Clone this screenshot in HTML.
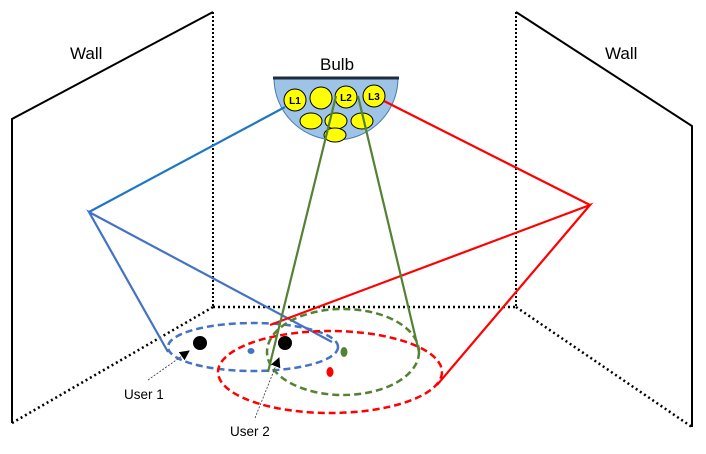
<!DOCTYPE html>
<html><head><meta charset="utf-8"><style>html,body{margin:0;padding:0;background:#fff}svg{display:block}</style></head>
<body>
<svg width="706" height="454" viewBox="0 0 706 454" xmlns="http://www.w3.org/2000/svg" font-family="Liberation Sans, sans-serif">
<defs><marker id="ah" markerWidth="10" markerHeight="10" refX="9" refY="5" orient="auto" markerUnits="userSpaceOnUse"><path d="M0,0 L10,5 L0,10 z" fill="#000"/></marker></defs>
<!-- walls -->
<polyline points="12,423 12,119 213,12" fill="none" stroke="#000" stroke-width="2"/>
<line x1="213" y1="12" x2="213" y2="307" stroke="#000" stroke-width="2" stroke-dasharray="2,2"/>
<line x1="12" y1="423" x2="213" y2="307" stroke="#000" stroke-width="2.5" stroke-dasharray="2,3"/>
<line x1="213" y1="307" x2="516" y2="307" stroke="#000" stroke-width="2.5" stroke-dasharray="2,3"/>
<polyline points="516,12 692,126 692,427" fill="none" stroke="#000" stroke-width="2"/>
<line x1="516" y1="12" x2="516" y2="307" stroke="#000" stroke-width="2" stroke-dasharray="2,2"/>
<line x1="516" y1="307" x2="692" y2="427" stroke="#000" stroke-width="2.5" stroke-dasharray="2,3"/>
<text x="70" y="59" font-size="17">Wall</text>
<text x="605" y="59" font-size="17">Wall</text>
<text x="320" y="70" font-size="17">Bulb</text>
<!-- bulb -->
<path d="M274,78 A62,62 0 0 0 398,78 Z" fill="#9dc3e6" stroke="#4a7ab0" stroke-width="1"/>
<line x1="273" y1="78" x2="399" y2="78" stroke="#1f2d3d" stroke-width="3"/>
<g fill="#ffff00" stroke="#000" stroke-width="1">
<circle cx="295" cy="100" r="11"/><circle cx="321" cy="98" r="11"/><circle cx="346" cy="97" r="11"/><circle cx="374" cy="96" r="11"/>
<ellipse cx="311" cy="121" rx="11" ry="8"/><ellipse cx="336" cy="121" rx="11" ry="8"/><ellipse cx="362" cy="121" rx="11" ry="8"/><ellipse cx="335" cy="135" rx="11" ry="7"/>
</g>
<g font-size="10" font-weight="bold" text-anchor="middle"><text x="295" y="104">L1</text><text x="346" y="101">L2</text><text x="374" y="100">L3</text></g>
<!-- blue -->
<polyline points="285,107 89,212" fill="none" stroke="#1f77c4" stroke-width="2.2"/>
<polyline points="168,352 89,212 332,342" fill="none" stroke="#4472c4" stroke-width="2.2"/>
<ellipse cx="253" cy="347" rx="85" ry="24" fill="none" stroke="#4472c4" stroke-width="2.5" stroke-dasharray="7,4"/>
<!-- red -->
<polyline points="384,101 590,205" fill="none" stroke="#ff0000" stroke-width="2.2"/>
<polyline points="270,325 590,205 437,385" fill="none" stroke="#ff0000" stroke-width="2.2"/>
<ellipse cx="330" cy="372" rx="112" ry="41" fill="none" stroke="#ff0000" stroke-width="2.5" stroke-dasharray="7,4"/>
<!-- green -->
<line x1="336" y1="96" x2="268" y2="372" stroke="#548235" stroke-width="2.2"/>
<line x1="358" y1="96" x2="419" y2="352" stroke="#548235" stroke-width="2.2"/>
<ellipse cx="343" cy="352" rx="76" ry="43" fill="none" stroke="#548235" stroke-width="2.5" stroke-dasharray="7,4"/>
<!-- dots -->
<circle cx="200" cy="343" r="7" fill="#000"/><circle cx="285" cy="343" r="7" fill="#000"/>
<ellipse cx="251" cy="351" rx="3.5" ry="3" fill="#4472c4"/>
<ellipse cx="344" cy="352" rx="3.5" ry="5" fill="#548235"/>
<ellipse cx="330" cy="372" rx="3.5" ry="5" fill="#ff0000"/>
<!-- arrows -->
<line x1="148" y1="380" x2="189" y2="351" stroke="#333" stroke-width="0.8" stroke-dasharray="2,1.5" marker-end="url(#ah)"/>
<line x1="255" y1="418" x2="279" y2="358" stroke="#333" stroke-width="0.8" stroke-dasharray="2,1.5" marker-end="url(#ah)"/>
<text x="124" y="399" font-size="13.5">User 1</text>
<text x="230" y="436" font-size="13.5">User 2</text>
</svg>
</body></html>
